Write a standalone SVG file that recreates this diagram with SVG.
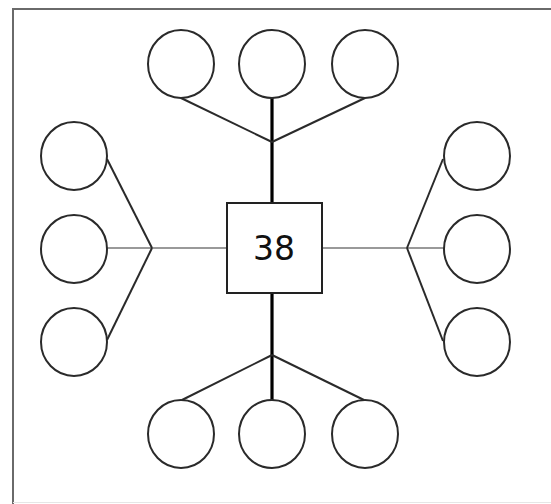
<svg xmlns="http://www.w3.org/2000/svg" width="551" height="504" viewBox="0 0 551 504">
<style>
.c{fill:#fff;stroke:#2a2a2a;stroke-width:2}
.d{stroke:#2a2a2a;stroke-width:2;fill:none}
.v{stroke:#000;stroke-width:3.2;fill:none}
.h{stroke:#999;stroke-width:2.2;fill:none}
.t{font-family:"DejaVu Sans",sans-serif;font-size:33px;fill:#111;text-anchor:middle}
</style>
<rect width="551" height="504" fill="#fff"/>
<rect x="13" y="9" width="548" height="500" fill="#fff" stroke="#6a6a6a" stroke-width="2"/>
<line x1="13" y1="502.5" x2="551" y2="502.5" stroke="#e6e6e6" stroke-width="1"/>
<g id="connectors">
<line class="v" x1="272" y1="203" x2="272" y2="98"/>
<line class="v" x1="272" y1="293" x2="272" y2="400"/>
<line class="d" x1="272" y1="142" x2="181" y2="98"/>
<line class="d" x1="272" y1="142" x2="365" y2="98"/>
<line class="d" x1="272" y1="355" x2="182" y2="400"/>
<line class="d" x1="272" y1="355" x2="364" y2="400"/>
<line class="h" x1="227" y1="248" x2="107" y2="248"/>
<line class="h" x1="322" y1="248" x2="444" y2="248"/>
<line class="d" x1="152" y1="248" x2="107" y2="159"/>
<line class="d" x1="152" y1="248" x2="107" y2="340"/>
<line class="d" x1="407" y1="248" x2="443" y2="159"/>
<line class="d" x1="407" y1="248" x2="443" y2="341"/>
</g>
<g id="center"><rect x="227" y="203" width="95" height="90" fill="#fff" stroke="#222" stroke-width="2"/><text class="t" x="274" y="260">38</text></g>
<g id="t1"><ellipse class="c" cx="181" cy="64" rx="33" ry="34"/></g>
<g id="t2"><ellipse class="c" cx="272" cy="64" rx="33" ry="34"/></g>
<g id="t3"><ellipse class="c" cx="365" cy="64" rx="33" ry="34"/></g>
<g id="l1"><ellipse class="c" cx="74" cy="156" rx="33" ry="34"/></g>
<g id="l2"><ellipse class="c" cx="74" cy="249" rx="33" ry="34"/></g>
<g id="l3"><ellipse class="c" cx="74" cy="342" rx="33" ry="34"/></g>
<g id="r1"><ellipse class="c" cx="477" cy="156" rx="33" ry="34"/></g>
<g id="r2"><ellipse class="c" cx="477" cy="249" rx="33" ry="34"/></g>
<g id="r3"><ellipse class="c" cx="477" cy="342" rx="33" ry="34"/></g>
<g id="b1"><ellipse class="c" cx="181" cy="434" rx="33" ry="34"/></g>
<g id="b2"><ellipse class="c" cx="272" cy="434" rx="33" ry="34"/></g>
<g id="b3"><ellipse class="c" cx="365" cy="434" rx="33" ry="34"/></g>
</svg>
